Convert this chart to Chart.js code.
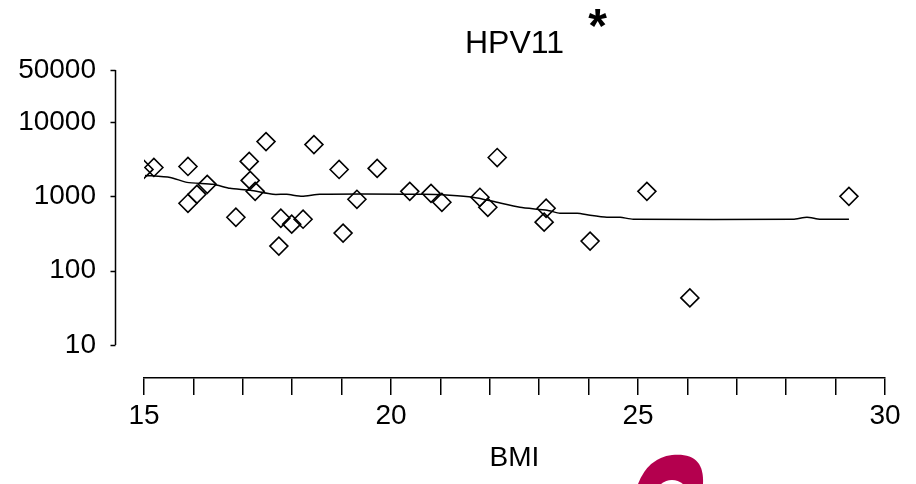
<!DOCTYPE html>
<html>
<head>
<meta charset="utf-8">
<script src="https://cdn.jsdelivr.net/npm/chart.js@4.4.1/dist/chart.umd.min.js"></script>
<style>
  html, body { margin: 0; padding: 0; background: #ffffff; }
  #wrap { width: 916px; height: 484px; position: relative; }
</style>
</head>
<body>
<div id="wrap"><canvas id="c" width="916" height="484"></canvas></div>
<script>
// ---- data ----
const titleText = 'HPV11';
const titleMark = '*';
const xTitle = 'BMI';

const bmi = [15.0, 15.2, 15.89, 15.89, 16.07, 16.28, 16.86, 17.13, 17.15, 17.25,
             17.47, 17.77, 17.73, 17.99, 18.22, 18.44, 18.95, 19.03, 19.31, 19.72,
             20.38, 20.81, 21.03, 21.8, 21.96, 22.15, 23.14, 23.1, 24.03, 25.18,
             26.05, 29.27];
const titre = [2300, 2444, 2520, 806, 1064, 1448, 523, 2945, 1638, 1167,
               5446, 507, 214, 422, 492, 4966, 2297, 320, 912, 2371,
               1167, 1097, 831, 970, 712, 3326, 691, 449, 250, 1167,
               43, 1000];

const smoothX = [15.02, 15.53, 15.87, 16.40, 16.74, 17.15, 17.61, 17.89, 18.20, 18.56,
                 20.65, 21.19, 21.66, 22.06, 22.61, 23.16, 23.42, 23.77, 24.03, 24.37,
                 24.64, 24.90, 28.14, 28.42, 28.68, 29.27];
const smoothY = [1910, 1796, 1540, 1448, 1280, 1203, 1064, 1064, 1000, 1064,
                 1064, 1031, 970, 857, 712, 650, 592, 592, 557, 523,
                 523, 492, 492, 523, 492, 492];

const xTicks = [15, 16, 17, 18, 19, 20, 21, 22, 23, 24, 25, 26, 27, 28, 29, 30];
const xLabelled = [15, 20, 25, 30];
const yTicks = [10, 100, 1000, 10000, 50000];

// ---- chart ----
const FONT = '"Liberation Sans", Arial, "DejaVu Sans", sans-serif';

const points = bmi.map((x, i) => ({ x: x, y: titre[i] }));
const curve = smoothX.map((x, i) => ({ x: x, y: smoothY[i] }));

const extras = {
  id: 'extras',
  afterDraw(chart) {
    const ctx = chart.ctx;
    const y = chart.scales.y;
    const x = chart.scales.x;
    ctx.save();
    // y axis line (from lowest to highest tick) with short ticks to the left
    const axX = 115.5;
    const top = y.getPixelForValue(yTicks[yTicks.length - 1]);
    const bot = y.getPixelForValue(yTicks[0]);
    ctx.strokeStyle = '#000';
    ctx.lineWidth = 1.5;
    ctx.beginPath();
    ctx.moveTo(axX, top);
    ctx.lineTo(axX, bot);
    yTicks.forEach(v => {
      const py = Math.round(y.getPixelForValue(v)) + 0.5;
      ctx.moveTo(axX - 5, py);
      ctx.lineTo(axX, py);
    });
    ctx.stroke();

    // title with asterisk
    const cx = (x.getPixelForValue(15) + x.getPixelForValue(30)) / 2;
    ctx.fillStyle = '#000';
    ctx.textAlign = 'center';
    ctx.textBaseline = 'alphabetic';
    ctx.font = '32px ' + FONT;
    ctx.fillText(titleText, cx, 53);
    ctx.font = 'bold 48px ' + FONT;
    ctx.fillText(titleMark, cx + 83, 42);

    // partial magenta logo at bottom edge
    ctx.fillStyle = '#b4004e';
    ctx.beginPath();
    ctx.moveTo(638, 484);
    ctx.quadraticCurveTo(648, 458, 672, 455);
    ctx.bezierCurveTo(694, 453, 704, 462, 703, 484);
    ctx.closePath();
    ctx.fill();
    ctx.fillStyle = '#ffffff';
    ctx.beginPath();
    ctx.ellipse(672, 493, 15, 13, 0, 0, Math.PI * 2);
    ctx.fill();
    ctx.restore();
  }
};

new Chart(document.getElementById('c'), {
  type: 'scatter',
  data: {
    datasets: [
      {
        label: 'subjects',
        data: points,
        showLine: false,
        pointStyle: 'rectRot',
        pointRadius: 9,
        pointHoverRadius: 9,
        borderColor: '#000',
        backgroundColor: 'rgba(0,0,0,0)',
        borderWidth: 1.6
      },
      {
        label: 'smooth',
        data: curve,
        showLine: true,
        pointRadius: 0,
        borderColor: '#000',
        borderWidth: 1.5,
        tension: 0.2,
        fill: false
      }
    ]
  },
  options: {
    responsive: false,
    animation: false,
    events: [],
    layout: { padding: { top: 70, left: 0, right: 31, bottom: 0 } },
    plugins: {
      legend: { display: false },
      tooltip: { enabled: false },
      title: { display: false }
    },
    scales: {
      x: {
        type: 'linear',
        min: 15,
        max: 30,
        afterBuildTicks(scale) { scale.ticks = xTicks.map(v => ({ value: v })); },
        afterFit(scale) { scale.height = 106; },
        grid: { display: true, drawOnChartArea: false, drawTicks: true, tickLength: 17, color: '#000', lineWidth: 1.5 },
        border: { display: true, color: '#000', width: 1.5 },
        ticks: {
          autoSkip: false,
          maxRotation: 0,
          padding: 4,
          color: '#000',
          font: { family: FONT, size: 28 },
          callback: v => (xLabelled.includes(v) ? String(v) : '')
        },
        title: {
          display: true,
          text: xTitle,
          color: '#000',
          font: { family: FONT, size: 28 },
          padding: { top: 0, bottom: 9 }
        }
      },
      y: {
        type: 'logarithmic',
        min: 3.6,
        max: 50000,
        afterBuildTicks(scale) { scale.ticks = yTicks.map(v => ({ value: v })); },
        afterFit(scale) { scale.width = 144; },
        grid: { display: false, drawTicks: false },
        border: { display: false },
        ticks: {
          autoSkip: false,
          padding: 48,
          color: '#000',
          font: { family: FONT, size: 28 },
          callback: v => String(v)
        }
      }
    }
  },
  plugins: [extras]
});
</script>
</body>
</html>
